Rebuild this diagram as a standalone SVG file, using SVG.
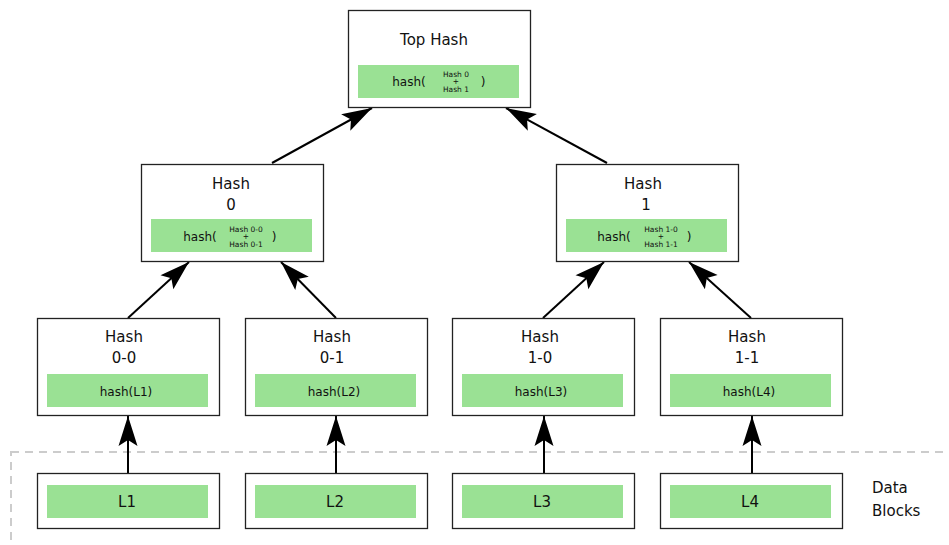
<svg xmlns="http://www.w3.org/2000/svg" width="949" height="545" viewBox="0 0 949 545">
  <style>
    .box { fill: #ffffff; stroke: #222222; stroke-width: 1.3; }
    .bar { fill: #9ae194; stroke: none; }
    text { font-family: "DejaVu Sans", Verdana, sans-serif; fill: #111111; }
    .title { font-size: 15px; text-anchor: middle; }
    .fn { font-size: 12px; text-anchor: middle; }
    .sub { font-size: 7.5px; text-anchor: middle; }
    .label { font-size: 15px; }
    .edge { stroke: #000000; stroke-width: 2; fill: none; marker-end: url(#head); }
    .group { fill: none; stroke: #cccccc; stroke-width: 2; stroke-dasharray: 8 6; }
  </style>
  <defs>
    <marker id="head" markerUnits="userSpaceOnUse" viewBox="-31 -10 32 20" refX="0" refY="0" markerWidth="32" markerHeight="20" orient="auto">
      <path d="M0,0 L-30,-9.5 L-24,0 L-30,9.5 Z" fill="#000000"/>
    </marker>
  </defs>

  <!-- data block region -->
  <rect class="group" x="11" y="452" width="960" height="120"/>
  <text class="label" x="872" y="493">Data</text>
  <text class="label" x="872" y="516">Blocks</text>

  <!-- connectors -->
  <g id="connectors">
    <line class="edge" x1="272" y1="163" x2="372" y2="108"/>
    <line class="edge" x1="607" y1="163" x2="506" y2="108"/>
    <line class="edge" x1="128" y1="318" x2="189" y2="262"/>
    <line class="edge" x1="336" y1="318" x2="281" y2="262"/>
    <line class="edge" x1="543" y1="318" x2="604" y2="262"/>
    <line class="edge" x1="751" y1="318" x2="689" y2="262"/>
    <line class="edge" x1="128" y1="473" x2="128" y2="416"/>
    <line class="edge" x1="336" y1="473" x2="336" y2="416"/>
    <line class="edge" x1="544" y1="473" x2="544" y2="416"/>
    <line class="edge" x1="752" y1="473" x2="752" y2="416"/>
  </g>

  <!-- root -->
  <g id="top-hash">
    <rect class="box" x="348.5" y="10.5" width="182" height="97"/>
    <text class="title" x="434" y="45">Top Hash</text>
    <rect class="bar" x="358" y="65" width="161" height="33"/>
    <text class="fn" x="409" y="86">hash(</text>
    <text class="sub" x="456" y="77">Hash 0</text>
    <text class="sub" x="456" y="84">+</text>
    <text class="sub" x="456" y="92">Hash 1</text>
    <text class="fn" x="483" y="86">)</text>
  </g>

  <!-- level 1 -->
  <g id="hash-0">
    <rect class="box" x="141.5" y="164.5" width="182" height="97"/>
    <text class="title" x="231" y="189">Hash</text>
    <text class="title" x="231" y="210">0</text>
    <rect class="bar" x="151" y="219" width="161" height="33"/>
    <text class="fn" x="200" y="241">hash(</text>
    <text class="sub" x="246" y="232">Hash 0-0</text>
    <text class="sub" x="246" y="239">+</text>
    <text class="sub" x="246" y="247">Hash 0-1</text>
    <text class="fn" x="274" y="241">)</text>
  </g>
  <g id="hash-1">
    <rect class="box" x="556.5" y="164.5" width="182" height="97"/>
    <text class="title" x="643" y="189">Hash</text>
    <text class="title" x="646" y="210">1</text>
    <rect class="bar" x="566" y="219" width="161" height="33"/>
    <text class="fn" x="614" y="241">hash(</text>
    <text class="sub" x="661" y="232">Hash 1-0</text>
    <text class="sub" x="661" y="239">+</text>
    <text class="sub" x="661" y="247">Hash 1-1</text>
    <text class="fn" x="689" y="241">)</text>
  </g>

  <!-- level 2 -->
  <g id="hash-0-0">
    <rect class="box" x="37.5" y="318.5" width="182" height="97"/>
    <text class="title" x="124" y="342">Hash</text>
    <text class="title" x="124" y="363">0-0</text>
    <rect class="bar" x="47" y="374" width="161" height="33"/>
    <text class="fn" x="126" y="396">hash(L1)</text>
  </g>
  <g id="hash-0-1">
    <rect class="box" x="245.5" y="318.5" width="182" height="97"/>
    <text class="title" x="332" y="342">Hash</text>
    <text class="title" x="332" y="363">0-1</text>
    <rect class="bar" x="255" y="374" width="161" height="33"/>
    <text class="fn" x="334" y="396">hash(L2)</text>
  </g>
  <g id="hash-1-0">
    <rect class="box" x="452.5" y="318.5" width="182" height="97"/>
    <text class="title" x="540" y="342">Hash</text>
    <text class="title" x="540" y="363">1-0</text>
    <rect class="bar" x="462" y="374" width="161" height="33"/>
    <text class="fn" x="541" y="396">hash(L3)</text>
  </g>
  <g id="hash-1-1">
    <rect class="box" x="660.5" y="318.5" width="182" height="97"/>
    <text class="title" x="747" y="342">Hash</text>
    <text class="title" x="747" y="363">1-1</text>
    <rect class="bar" x="670" y="374" width="161" height="33"/>
    <text class="fn" x="749" y="396">hash(L4)</text>
  </g>

  <!-- data blocks -->
  <g id="block-l1">
    <rect class="box" x="37.5" y="473.5" width="182" height="55"/>
    <rect class="bar" x="47" y="485" width="161" height="33"/>
    <text class="title" x="127" y="507">L1</text>
  </g>
  <g id="block-l2">
    <rect class="box" x="245.5" y="473.5" width="182" height="55"/>
    <rect class="bar" x="255" y="485" width="161" height="33"/>
    <text class="title" x="335" y="507">L2</text>
  </g>
  <g id="block-l3">
    <rect class="box" x="452.5" y="473.5" width="182" height="55"/>
    <rect class="bar" x="462" y="485" width="161" height="33"/>
    <text class="title" x="542" y="507">L3</text>
  </g>
  <g id="block-l4">
    <rect class="box" x="660.5" y="473.5" width="182" height="55"/>
    <rect class="bar" x="670" y="485" width="161" height="33"/>
    <text class="title" x="750" y="507">L4</text>
  </g>
</svg>
